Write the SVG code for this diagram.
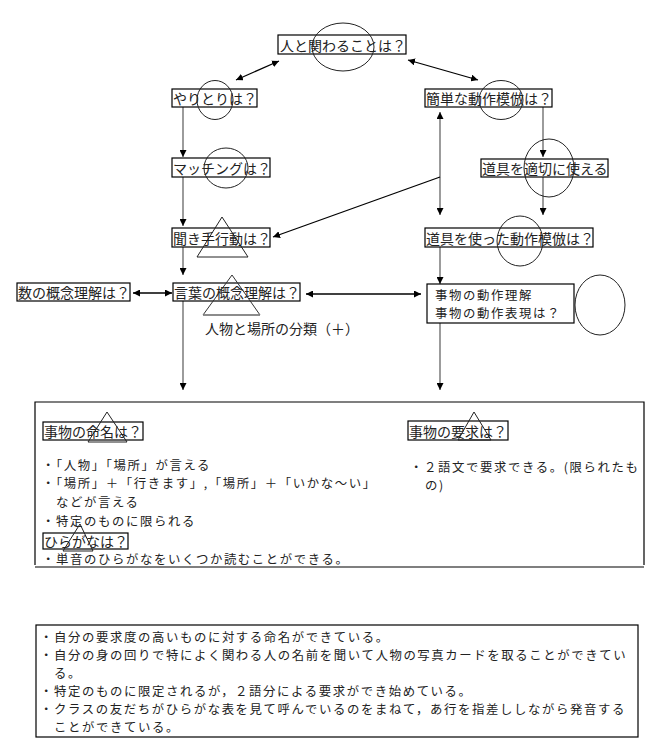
<svg xmlns="http://www.w3.org/2000/svg" width="661" height="753" viewBox="0 0 661 753">
<style>
text{font-family:"Noto Sans CJK JP","Noto Sans",sans-serif;font-size:14px;fill:#222;dominant-baseline:central}
text.ml{font-size:12.4px;letter-spacing:1.6px}
.box{fill:#fff;stroke:#000;stroke-width:1.2}
.ov{fill:none;stroke:#222;stroke-width:1}
.ln{fill:none;stroke:#666;stroke-width:1.3}
.ar{fill:none;stroke:#000;stroke-width:1.3}
</style>
<defs>
<marker id="ah" viewBox="0 0 10 10" refX="10" refY="5" markerWidth="7" markerHeight="7" orient="auto-start-reverse" markerUnits="userSpaceOnUse">
<path d="M0,0 L10,5 L0,10 Z" fill="#000"/>
</marker>
</defs>
<rect width="661" height="753" fill="#fff"/>

<g id="connectors">
<line class="ar" x1="236" y1="80" x2="279" y2="61" marker-start="url(#ah)" marker-end="url(#ah)"/>
<line class="ar" x1="408" y1="60" x2="478" y2="80" marker-start="url(#ah)" marker-end="url(#ah)"/>
<line class="ln" x1="183" y1="107" x2="183" y2="157" marker-end="url(#ah)"/>
<line class="ln" x1="183" y1="177" x2="183" y2="226" marker-end="url(#ah)"/>
<line class="ln" x1="183" y1="247" x2="183" y2="275" marker-end="url(#ah)"/>
<line class="ln" x1="183" y1="301" x2="183" y2="390" marker-end="url(#ah)"/>
<line class="ln" x1="440" y1="112" x2="440" y2="215" marker-start="url(#ah)" marker-end="url(#ah)"/>
<line class="ln" x1="543" y1="107" x2="543" y2="157" marker-end="url(#ah)"/>
<line class="ln" x1="543" y1="177" x2="543" y2="215" marker-end="url(#ah)"/>
<line class="ar" x1="440" y1="177" x2="273" y2="237" marker-end="url(#ah)"/>
<line class="ln" x1="440" y1="247" x2="440" y2="284" marker-end="url(#ah)"/>
<line class="ln" x1="440" y1="323" x2="440" y2="390" marker-end="url(#ah)"/>
<line class="ar" x1="133" y1="293" x2="172" y2="293" marker-start="url(#ah)" marker-end="url(#ah)"/>
<line class="ar" x1="306" y1="294" x2="421" y2="294" marker-start="url(#ah)" marker-end="url(#ah)"/>
</g>

<g id="n-hito">
<rect class="box" x="278" y="35" width="128" height="19"/>
<text x="280" y="45">人と関わることは？</text>
<ellipse class="ov" cx="343" cy="47" rx="31" ry="24"/>
</g>
<g id="n-yaritori">
<rect class="box" x="172" y="89" width="85" height="18"/>
<text x="173" y="98">やりとりは？</text>
<ellipse class="ov" cx="215" cy="100" rx="18" ry="19.5"/>
</g>
<g id="n-kantan">
<rect class="box" x="425" y="89" width="127" height="18"/>
<text x="426" y="98">簡単な動作模倣は？</text>
<ellipse class="ov" cx="501" cy="100" rx="22" ry="19.5"/>
</g>
<g id="n-matching">
<rect class="box" x="172" y="158" width="98" height="19"/>
<text x="173" y="168">マッチングは？</text>
<ellipse class="ov" cx="226" cy="168" rx="22" ry="20"/>
</g>
<g id="n-dougu-tekisetsu">
<rect class="box" x="481" y="159" width="127" height="18"/>
<text x="482" y="168">道具を適切に使える</text>
<ellipse class="ov" cx="549" cy="168" rx="25" ry="29"/>
</g>
<g id="n-kikite">
<rect class="box" x="172" y="228" width="98" height="19"/>
<text x="173" y="238">聞き手行動は？</text>
<polygon class="ov" points="222,217 197,257 248,257"/>
</g>
<g id="n-dougu-mohou">
<rect class="box" x="425" y="228" width="168" height="19"/>
<text x="426" y="238">道具を使った動作模倣は？</text>
<ellipse class="ov" cx="520" cy="241" rx="23" ry="25"/>
</g>
<g id="n-kazu">
<rect class="box" x="17" y="283" width="113" height="18"/>
<text x="18" y="292">数の概念理解は？</text>
</g>
<g id="n-kotoba">
<rect class="box" x="173" y="283" width="127" height="18"/>
<text x="174" y="292">言葉の概念理解は？</text>
<polygon points="232,275 203,315 260,315" fill="none" stroke="#333" stroke-width="1"/>
<line x1="203" y1="315" x2="260" y2="315" stroke="#888" stroke-width="1.5"/>
<text x="205" y="328">人物と場所の分類（＋）</text>
</g>
<g id="n-jibutsu-dousa">
<rect class="box" x="427" y="284" width="147" height="39"/>
<text class="ml" x="435" y="295">事物の動作理解<tspan x="435" dy="18">事物の動作表現は？</tspan></text>
<ellipse class="ov" cx="600" cy="305" rx="25" ry="30"/>
</g>

<g id="panel-1">
<path d="M35,565 L35,402 L644,402 L644,565" fill="none" stroke="#000" stroke-width="1.2"/>
<line x1="35" y1="567" x2="644" y2="567" stroke="#000" stroke-width="1.2"/>
<g id="n-meimei">
<rect class="box" x="43" y="422" width="100" height="18"/>
<text x="44" y="431">事物の命名は？</text>
<polygon class="ov" points="107,412 88,442 127,442"/>
</g>
<text class="ml" x="42" y="465">・「人物」「場所」が言える<tspan x="42" dy="18">・「場所」＋「行きます」,「場所」＋「いかな～い」</tspan><tspan x="56" dy="19">などが言える</tspan><tspan x="42" dy="19">・特定のものに限られる</tspan></text>
<g id="n-hiragana">
<rect class="box" x="43" y="533" width="85" height="16"/>
<text x="44" y="541">ひらがなは？</text>
<polygon class="ov" points="80,524 63,551 93,551"/>
</g>
<text class="ml" x="42" y="559">・単音のひらがなをいくつか読むことができる。</text>
<g id="n-youkyu">
<rect class="box" x="408" y="421" width="100" height="19"/>
<text x="409" y="431">事物の要求は？</text>
<polygon class="ov" points="474,412 458,440 491,440"/>
</g>
<text class="ml" x="410" y="467">・２語文で要求できる。(限られたも<tspan x="425" dy="18">の)</tspan></text>
</g>

<g id="panel-2">
<rect x="36" y="625" width="602" height="112" fill="none" stroke="#000" stroke-width="1.2"/>
<text class="ml" x="40" y="637">・自分の要求度の高いものに対する命名ができている。<tspan x="40" dy="18">・自分の身の回りで特によく関わる人の名前を聞いて人物の写真カードを取ることができてい</tspan><tspan x="54" dy="18">る。</tspan><tspan x="40" dy="18">・特定のものに限定されるが，２語分による要求ができ始めている。</tspan><tspan x="40" dy="18">・クラスの友だちがひらがな表を見て呼んでいるのをまねて，あ行を指差ししながら発音する</tspan><tspan x="54" dy="18">ことができている。</tspan></text>
</g>
</svg>
